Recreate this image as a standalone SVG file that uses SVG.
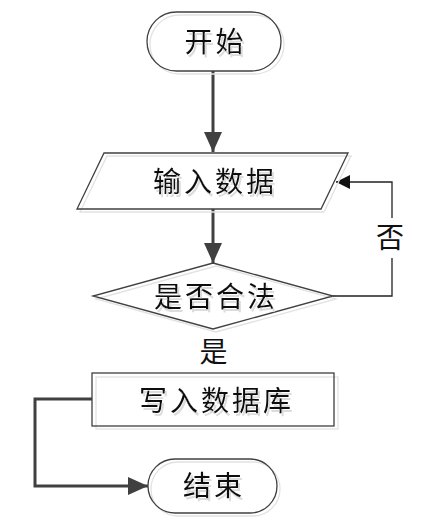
<svg xmlns="http://www.w3.org/2000/svg" width="436" height="531" viewBox="0 0 436 531">
<defs>
<style>
.shape{fill:none;stroke:#404040;stroke-width:1.3}
.shadow{fill:none;stroke:#e2e2e2;stroke-width:1.3}
.t{font-family:"Noto Sans CJK SC","Noto Sans CJK JP",sans-serif;font-size:28px;fill:#111;text-anchor:middle;letter-spacing:3px}
.sh{filter:url(#tshadow)}
.thick{fill:none;stroke:#404040;stroke-width:3}
.thin{fill:none;stroke:#222;stroke-width:1.3}
</style>
<filter id="tshadow" x="-10%" y="-20%" width="130%" height="150%">
<feOffset in="SourceAlpha" dx="2" dy="3" result="off"/>
<feFlood flood-color="#dcdcdc"/>
<feComposite in2="off" operator="in" result="shadow"/>
<feMerge><feMergeNode in="shadow"/><feMergeNode in="SourceGraphic"/></feMerge>
</filter>
<marker id="ah" markerUnits="userSpaceOnUse" viewBox="0 0 20 20" refX="20" refY="10" markerWidth="20" markerHeight="20" orient="auto"><path d="M0,1 L20,10 L0,19 Z" fill="#404040"/></marker>
<marker id="ahs" markerUnits="userSpaceOnUse" viewBox="0 0 14 14" refX="14" refY="7" markerWidth="14" markerHeight="14" orient="auto"><path d="M0,0 L14,7 L0,14 Z" fill="#111"/></marker>
</defs>
<rect width="436" height="531" fill="#fff"/>
<g id="connectors">
<path class="thick" d="M213,71 L213,152" marker-end="url(#ah)"/>
<path class="thick" d="M213,209 L213,263" marker-end="url(#ah)"/>
<path class="thin" d="M333,296 L392,296 L392,258 M392,218 L392,182 L336,182" marker-end="url(#ahs)"/>
<path class="thick" d="M92,399 L35,399 L35,486 L148,486" marker-end="url(#ah)"/>
</g>
<g id="start">
<rect class="shadow" x="150" y="15" width="134" height="59" rx="29.5"/>
<rect class="shape" x="147" y="12" width="134" height="59" rx="29.5"/>
<text class="t sh" x="215.5" y="52">开始</text>
</g>
<g id="input">
<polygon class="shadow" points="107,156 351,156 324,212 80,212"/>
<polygon class="shape" points="104,153 348,153 321,209 77,209"/>
<text class="t sh" x="215" y="192">输入数据</text>
</g>
<g id="decision">
<polygon class="shadow" points="216,266 336,299 216,332 96,299"/>
<polygon class="shape" points="213,263 333,296 213,329 93,296"/>
<text class="t sh" x="216" y="306.5">是否合法</text>
</g>
<g id="yes-label"><text class="t" x="215" y="361.5">是</text></g>
<g id="no-label"><text class="t" x="391.5" y="248">否</text></g>
<g id="write">
<rect class="shadow" x="96" y="377" width="242" height="52"/>
<rect class="shape" x="92" y="373" width="242" height="53"/>
<text class="t sh" x="216.5" y="410.5">写入数据库</text>
</g>
<g id="end">
<rect class="shadow" x="151" y="462" width="129" height="54" rx="27"/>
<rect class="shape" x="148" y="459" width="129" height="54" rx="27"/>
<text class="t sh" x="214" y="496">结束</text>
</g>
</svg>
